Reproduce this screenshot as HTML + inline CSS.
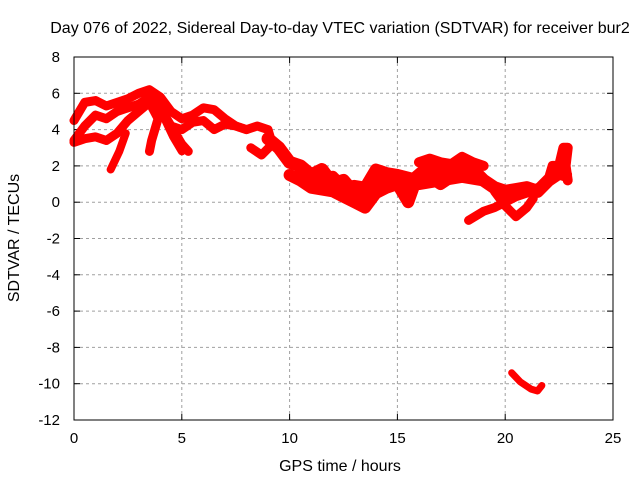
<!DOCTYPE html>
<html><head><meta charset="utf-8"><style>
body{margin:0;background:#fff}
svg{display:block;font-family:"Liberation Sans",Arial,sans-serif}
</style></head><body>
<svg id="chart" width="640" height="480">
<text x="340" y="33" text-anchor="middle" font-size="16">Day 076 of 2022, Sidereal Day-to-day VTEC variation (SDTVAR) for receiver bur2</text>
<text x="340" y="471" text-anchor="middle" font-size="16">GPS time / hours</text>
<text transform="translate(19,238) rotate(-90)" text-anchor="middle" font-size="16">SDTVAR / TECUs</text>
<g id="grid"></g><g id="ticks"></g><g id="series"></g>
<rect x="74" y="57" width="539" height="363" fill="none" stroke="#000" stroke-width="1"/>
</svg>
<script>
const xTicks=[0,5,10,15,20,25];
const yTicks=[8,6,4,2,0,-2,-4,-6,-8,-10,-12];
const trackA=[[0,4.5],[0.5,5.5],[1,5.6],[1.5,5.3],[2,5.5],[2.5,5.7],[3,6.0],[3.5,6.2],[4,5.8],[4.5,5.0],[5,4.6],[5.5,4.8],[6,5.2],[6.5,5.1],[7,4.6],[7.5,4.2],[8,4.0]];
const trackB=[[0,3.4],[0.5,4.2],[1,4.8],[1.5,4.6],[2,5.0],[2.5,5.2],[3,5.4],[3.5,5.8],[4,5.2],[4.5,4.2],[5,3.2],[5.3,2.8]];
const trackC=[[0,3.3],[0.5,3.5],[1,3.6],[1.5,3.4],[2,3.8],[2.5,4.5],[3,5.0],[3.5,5.5],[3.9,4.6],[3.6,3.4],[3.5,2.8]];
const trackDrop=[[2.4,3.8],[2.1,2.8],[1.7,1.8]];
const trackDrop2=[[4.2,4.6],[4.6,3.6],[5.0,2.8]];
const trackD=[[4.5,4.2],[5,4.0],[5.5,4.4],[6,4.5],[6.5,4.0],[7,4.3],[7.5,4.2],[8,4.0],[8.5,4.2],[9,4.0],[9.2,3.2],[8.7,2.6],[8.2,3.0]];
const trackE=[[9,3.5],[9.5,3.0],[10,2.2],[10.5,2.0],[11,1.5],[11.5,1.8],[12,1.0],[12.5,1.2],[13,0.5],[13.5,0.2],[14,1.0],[14.5,1.3],[15,1.2],[15.5,1.0],[16,1.5],[16.5,2.0],[17,1.6],[17.5,1.8],[18,2.2],[18.5,1.8],[19,1.2],[19.5,0.8],[20,0.6],[20.5,0.7],[21,0.8],[21.5,0.6],[22,1.2],[22.5,1.6],[22.8,1.5]];
const trackF=[[10,1.5],[10.5,1.2],[11,0.8],[12,0.6],[12.5,0.3],[13,0],[13.5,-0.3],[14,0.5],[14.5,0.8],[15,1.0],[15.3,0.4],[15.5,0],[15.8,1.0],[16,1.0],[17,1.2],[18,1.4],[19,1.2]];
const trackF2=[[10.5,1.8],[11,1.2],[11.5,1.3],[12,1.4],[12.5,0.8],[13,0.9],[13.5,0.8],[14,1.8],[14.5,1.6],[15,1.5],[16,1.2],[16.5,1.4],[17,1.0],[18,1.8]];
const trackG=[[16,2.2],[16.5,2.4],[17,2.2],[17.5,2.1],[18,2.5],[18.5,2.2],[19,2.0]];
const trackH=[[18.3,-1.0],[19,-0.5],[19.5,-0.3],[20,0],[20.5,0.3],[21,0.5],[21.5,0.8]];
const trackI=[[19.5,0.6],[20,-0.2],[20.5,-0.8],[21,-0.3],[21.3,0.2]];
const trackJ=[[22,1.2],[22.2,2.0],[22.5,2.0],[22.7,3.0],[22.9,3.0],[22.8,2.0],[22.9,1.2]];
const trackK=[[20.3,-9.4],[20.7,-9.9],[21.2,-10.3],[21.5,-10.4],[21.7,-10.1]];
const tracks=[trackA,trackB,trackC,trackDrop,trackDrop2,trackD,trackE,trackF,trackF2,trackG,trackH,trackI,trackJ,trackK];
const widths=[9,9,9,8,8,9,13,12,12,10,9,9,10,7];
const X=t=>74+t*(539/25), Y=v=>57+(8-v)*(363/20);
const NS="http://www.w3.org/2000/svg";
const grid=document.getElementById('grid'),ticks=document.getElementById('ticks'),ser=document.getElementById('series');
function mk(tag,a,p){const e=document.createElementNS(NS,tag);for(const k in a)e.setAttribute(k,a[k]);p.appendChild(e);return e;}
xTicks.forEach(t=>{const x=X(t);
 if(t>0&&t<25){const g=mk('line',{x1:x,x2:x,y1:57,y2:420,stroke:'#a0a0a0','stroke-dasharray':'3,3'},grid);
 
 }
 mk('line',{x1:x,x2:x,y1:420,y2:414,stroke:'#000'},ticks);mk('line',{x1:x,x2:x,y1:57,y2:63,stroke:'#000'},ticks);
 const l=mk('text',{x:x,y:443,'text-anchor':'middle','font-size':15},ticks);l.textContent=t;
 
 });
yTicks.forEach(v=>{const y=Y(v);
 if(v<8&&v>-12){const g=mk('line',{x1:74,x2:613,y1:y,y2:y,stroke:'#a0a0a0','stroke-dasharray':'3,3'},grid);
 
 }
 mk('line',{x1:74,x2:80,y1:y,y2:y,stroke:'#000'},ticks);mk('line',{x1:613,x2:607,y1:y,y2:y,stroke:'#000'},ticks);
 const l=mk('text',{x:60,y:y+5,'text-anchor':'end','font-size':15},ticks);l.textContent=v;
 
 });
tracks.forEach((tr,i)=>{const p=mk('polyline',{points:tr.map(d=>X(d[0])+','+Y(d[1])).join(' '),fill:'none',stroke:'#f00','stroke-width':widths[i],'stroke-linejoin':'round','stroke-linecap':'round'},ser);
 
 });
</script>
</body></html>
